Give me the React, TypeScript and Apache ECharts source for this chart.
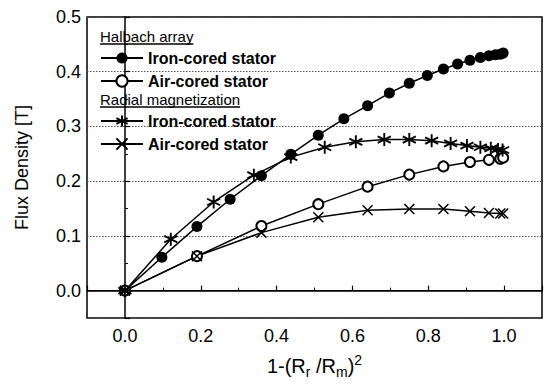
import React, { useEffect, useRef } from "react";
import * as echarts from "echarts";

// ---- data ----
const xHalbachIron = [0, 0.0975, 0.19, 0.2775, 0.36, 0.4375, 0.51, 0.5775, 0.64, 0.6975, 0.75, 0.7975, 0.84, 0.8775, 0.91, 0.9375, 0.96, 0.9775, 0.99, 0.9975];
const yHalbachIron = [0, 0.061, 0.117, 0.167, 0.21, 0.249, 0.284, 0.314, 0.338, 0.361, 0.379, 0.393, 0.405, 0.414, 0.421, 0.426, 0.429, 0.431, 0.432, 0.434];

const xHalbachAir = [0, 0.19, 0.36, 0.51, 0.64, 0.75, 0.84, 0.91, 0.96, 0.99, 0.9975];
const yHalbachAir = [0, 0.063, 0.118, 0.158, 0.19, 0.212, 0.227, 0.235, 0.239, 0.241, 0.243];

const xRadialIron = [0, 0.121, 0.234, 0.34, 0.4375, 0.527, 0.609, 0.684, 0.75, 0.809, 0.859, 0.902, 0.9375, 0.965, 0.984, 0.996];
const yRadialIron = [0, 0.094, 0.162, 0.211, 0.244, 0.262, 0.272, 0.276, 0.276, 0.274, 0.269, 0.265, 0.262, 0.26, 0.258, 0.257];

const xRadialAir = [0, 0.19, 0.36, 0.51, 0.64, 0.75, 0.84, 0.91, 0.96, 0.99, 0.9975];
const yRadialAir = [0, 0.063, 0.106, 0.134, 0.147, 0.149, 0.149, 0.145, 0.142, 0.141, 0.141];

const groupTitles = ["Halbach array", "Radial magnetization"];
const itemNames = ["Iron-cored stator", "Air-cored stator"];

const FONT = "'Liberation Sans', Arial, sans-serif";

const zip = (xs: number[], ys: number[]) => xs.map((x, i) => [x, ys[i]]);

const ASTERISK = "path://M5,0L5,10M0.67,2.5L9.33,7.5M0.67,7.5L9.33,2.5";
const CROSS = "path://M0,0L10,10M0,10L10,0";

function textWidth(t: string, font: string) {
  const c = document.createElement("canvas").getContext("2d");
  if (!c) return t.length * 7;
  c.font = font;
  return c.measureText(t).width;
}

export default function App() {
  const ref = useRef<HTMLDivElement>(null);
  useEffect(() => {
    if (!ref.current) return;
    const chart = echarts.init(ref.current, undefined, { renderer: "svg" });
    const headFont = `15px ${FONT}`;
    const w1 = textWidth(groupTitles[0], headFont);
    const w2 = textWidth(groupTitles[1], headFont);

    const lineBase = {
      type: "line" as const,
      smooth: false,
      lineStyle: { color: "#000", width: 1.5 },
      z: 3,
    };

    const legendText = { fontFamily: FONT, fontSize: 16, fontWeight: "bold", color: "#000", lineHeight: 14 };

    chart.setOption({
      animation: false,
      backgroundColor: "#fff",
      textStyle: { fontFamily: FONT, color: "#000" },
      grid: {
        left: 87,
        right: 3,
        top: 17,
        bottom: 68,
        show: true,
        borderColor: "#000",
        borderWidth: 1.5,
        backgroundColor: "transparent",
      },
      xAxis: {
        type: "value",
        min: -0.1,
        max: 1.1,
        splitNumber: 6,
        name: `1-(R{sub|r} /R{sub|m}){sup|2}`,
        nameLocation: "middle",
        nameGap: 35,
        nameTextStyle: {
          fontFamily: FONT,
          fontSize: 20,
          color: "#000",
          rich: {
            sub: { fontFamily: FONT, fontSize: 14, color: "#000", padding: [12, 0, 0, 0] },
            sup: { fontFamily: FONT, fontSize: 14, color: "#000", padding: [0, 0, 12, 0] },
          },
        },
        axisLine: { show: true, lineStyle: { color: "#000", width: 1.5 } },
        axisTick: { show: true, inside: true, length: 5, lineStyle: { color: "#000", width: 1.2 } },
        minorTick: { show: true, splitNumber: 2, length: 3, lineStyle: { color: "#000", width: 1 } },
        splitLine: { show: false },
        axisLabel: {
          showMinLabel: false,
          showMaxLabel: false,
          fontSize: 18,
          fontFamily: FONT,
          color: "#000",
          margin: 9,
          formatter: (v: number) => v.toFixed(1),
        },
      },
      yAxis: {
        type: "value",
        min: -0.05,
        max: 0.5,
        splitNumber: 5,
        name: "Flux Density [T]",
        nameLocation: "middle",
        nameGap: 56,
        nameTextStyle: { fontFamily: FONT, fontSize: 18, color: "#000" },
        axisLine: { show: true, lineStyle: { color: "#000", width: 1.5 } },
        axisTick: { show: true, inside: true, length: 5, lineStyle: { color: "#000", width: 1.2 } },
        minorTick: { show: true, splitNumber: 2, length: 3, lineStyle: { color: "#000", width: 1 } },
        splitLine: { show: true, lineStyle: { color: "#555", width: 1, type: [1.5, 1.5] } },
        axisLabel: {
          showMinLabel: false,
          fontSize: 18,
          fontFamily: FONT,
          color: "#000",
          margin: 6,
          formatter: (v: number) => v.toFixed(1),
        },
      },
      legend: [
        {
          data: [`H:${itemNames[0]}`, `H:${itemNames[1]}`],
          orient: "vertical",
          left: 100,
          top: 50,
          padding: 0,
          itemWidth: 42,
          itemHeight: 14,
          itemGap: 7,
          selectedMode: false,
          formatter: (n: string) => n.split(":")[1],
          textStyle: legendText,
        },
        {
          data: [`R:${itemNames[0]}`, `R:${itemNames[1]}`],
          orient: "vertical",
          left: 100,
          top: 113,
          padding: 0,
          itemWidth: 42,
          itemHeight: 14,
          itemGap: 7,
          selectedMode: false,
          formatter: (n: string) => n.split(":")[1],
          textStyle: legendText,
        },
      ],
      graphic: [
        {
          type: "text",
          left: 100,
          top: 29,
          style: { text: groupTitles[0], font: headFont, fill: "#000" },
        },
        {
          type: "line",
          shape: { x1: 100, y1: 44, x2: 100 + w1, y2: 44 },
          style: { stroke: "#000", lineWidth: 1.3 },
        },
        {
          type: "text",
          left: 100,
          top: 92,
          style: { text: groupTitles[1], font: headFont, fill: "#000" },
        },
        {
          type: "line",
          shape: { x1: 100, y1: 107, x2: 100 + w2, y2: 107 },
          style: { stroke: "#000", lineWidth: 1.3 },
        },
      ],
      series: [
        {
          ...lineBase,
          name: `H:${itemNames[0]}`,
          data: zip(xHalbachIron, yHalbachIron),
          symbol: "circle",
          symbolSize: 11,
          itemStyle: { color: "#000" },
          markLine: {
            silent: true,
            symbol: "none",
            label: { show: false },
            lineStyle: { color: "#000", type: "solid", width: 1.2 },
            data: [{ yAxis: 0 }],
          },
        },
        {
          ...lineBase,
          name: `H:${itemNames[1]}`,
          data: zip(xHalbachAir, yHalbachAir),
          symbol: "emptyCircle",
          symbolSize: 10,
          itemStyle: { color: "#000", borderColor: "#000", borderWidth: 1.5 },
        },
        {
          ...lineBase,
          name: `R:${itemNames[0]}`,
          data: zip(xRadialIron, yRadialIron),
          symbol: ASTERISK,
          symbolSize: 13,
          itemStyle: { color: "#000", borderColor: "#000", borderWidth: 1.9 },
        },
        {
          ...lineBase,
          name: `R:${itemNames[1]}`,
          data: zip(xRadialAir, yRadialAir),
          symbol: CROSS,
          symbolSize: 10,
          itemStyle: { color: "#000", borderColor: "#000", borderWidth: 1.5 },
        },
      ],
    });
    return () => chart.dispose();
  }, []);
  return (
    <div
      ref={ref}
      style={{ position: "fixed", left: 0, top: 0, width: 545, height: 386, background: "#fff" }}
    />
  );
}
